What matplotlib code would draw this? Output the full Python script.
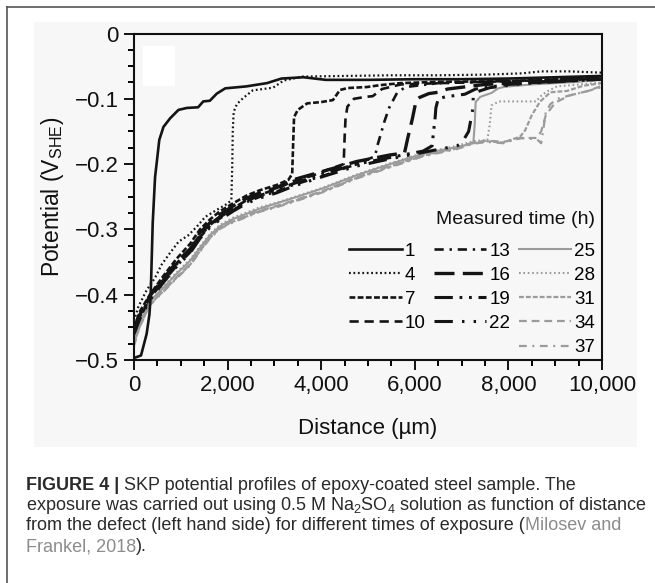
import matplotlib
matplotlib.use('Agg')
import matplotlib.pyplot as plt
from matplotlib.lines import Line2D
from matplotlib.patches import Rectangle

plt.rcParams['font.family'] = ['Liberation Sans', 'DejaVu Sans']
plt.rcParams['mathtext.fontset'] = 'custom'
plt.rcParams['mathtext.rm'] = 'Liberation Sans'
plt.rcParams['mathtext.it'] = 'Liberation Sans:italic'
plt.rcParams['mathtext.bf'] = 'Liberation Sans:bold'

# measured times (h)
times = [1, 4, 7, 10, 13, 16, 19, 22, 25, 28, 31, 34, 37]

# distance (um) / potential (V_SHE)
x1 = [0, 150, 270, 330, 357, 400, 450, 490, 540, 630, 770, 950, 1130, 1370, 1480, 1620, 1770, 1950,
      2400, 2840, 3150, 3620, 4100, 5000, 6000, 7000, 8000, 9000, 10000]
y1 = [-0.497, -0.493, -0.46, -0.43, -0.40, -0.29, -0.22, -0.195, -0.163, -0.143, -0.130, -0.117, -0.114,
      -0.113, -0.104, -0.103, -0.092, -0.084, -0.081, -0.076, -0.069, -0.067, -0.071, -0.071, -0.070,
      -0.070, -0.069, -0.067, -0.065]

x4 = [0, 90, 270, 450, 590, 770, 950, 1160, 1340, 1520, 1770, 2010, 2080, 2100, 2110, 2130, 2200, 2330,
      2540, 2760, 2970, 3200, 3600, 4500, 5500, 6500, 7500, 8300, 8700, 9300, 10000]
y4 = [-0.44, -0.419, -0.393, -0.374, -0.354, -0.336, -0.319, -0.309, -0.296, -0.281, -0.270, -0.260,
      -0.255, -0.20, -0.15, -0.12, -0.108, -0.099, -0.087, -0.085, -0.083, -0.072, -0.066, -0.065,
      -0.064, -0.064, -0.063, -0.061, -0.058, -0.058, -0.060]

x7 = [0, 130, 340, 620, 910, 1200, 1410, 1620, 1840, 2120, 2410, 2690, 3050, 3300, 3380, 3400, 3420,
      3500, 3700, 4000, 4250, 4400, 4570, 4970, 5270, 5700, 6500, 8000, 9000, 10000]
y7 = [-0.45, -0.425, -0.40, -0.372, -0.345, -0.322, -0.300, -0.285, -0.272, -0.26, -0.248, -0.24,
      -0.232, -0.224, -0.215, -0.17, -0.128, -0.117, -0.107, -0.105, -0.102, -0.0865, -0.0835, -0.082,
      -0.079, -0.076, -0.074, -0.073, -0.070, -0.066]

x10 = [0, 130, 340, 620, 910, 1200, 1410, 1620, 1840, 2120, 2410, 2690, 3050, 3400, 3800, 4200, 4480,
       4500, 4520, 4560, 4700, 4950, 5100, 5300, 5700, 7000, 8500, 10000]
y10 = [-0.455, -0.43, -0.405, -0.378, -0.352, -0.33, -0.308, -0.292, -0.28, -0.268, -0.255, -0.247,
       -0.238, -0.226, -0.218, -0.207, -0.20, -0.16, -0.13, -0.112, -0.100, -0.097, -0.096, -0.085,
       -0.078, -0.075, -0.072, -0.068]

x13 = [0, 130, 340, 620, 910, 1200, 1410, 1620, 1840, 2120, 2410, 2690, 3050, 3400, 4040, 4760, 5150,
       5200, 5350, 5450, 5620, 5800, 6500, 8000, 10000]
y13 = [-0.46, -0.435, -0.405, -0.38, -0.356, -0.335, -0.312, -0.295, -0.283, -0.27, -0.258, -0.25,
       -0.242, -0.232, -0.218, -0.200, -0.188, -0.172, -0.135, -0.114, -0.091, -0.082, -0.076, -0.073,
       -0.069]

x16 = [0, 130, 340, 620, 910, 1200, 1410, 1620, 1840, 2120, 2410, 2690, 3050, 3400, 4040, 4760, 5470,
       5780, 5850, 5950, 6030, 6100, 6300, 6500, 6700, 7500, 10000]
y16 = [-0.45, -0.43, -0.402, -0.376, -0.35, -0.33, -0.305, -0.29, -0.277, -0.264, -0.252, -0.244,
       -0.236, -0.224, -0.211, -0.196, -0.186, -0.183, -0.16, -0.13, -0.102, -0.098, -0.092, -0.090,
       -0.085, -0.078, -0.070]

x19 = [0, 130, 340, 620, 910, 1200, 1410, 1620, 1840, 2120, 2410, 2690, 3050, 3400, 4040, 4760, 5470,
       6180, 6370, 6400, 6430, 6450, 6500, 6650, 7070, 7300, 8000, 10000]
y19 = [-0.455, -0.432, -0.405, -0.378, -0.353, -0.332, -0.31, -0.293, -0.281, -0.268, -0.256, -0.248,
       -0.24, -0.23, -0.215, -0.2, -0.19, -0.18, -0.172, -0.15, -0.133, -0.114, -0.10, -0.097, -0.093,
       -0.085, -0.078, -0.070]

x22 = [0, 130, 340, 620, 910, 1200, 1410, 1620, 1840, 2120, 2410, 2690, 3050, 3400, 4040, 4760, 5470,
       6180, 6900, 7000, 7150, 7230, 7250, 7300, 7600, 8500, 10000]
y22 = [-0.46, -0.436, -0.408, -0.382, -0.357, -0.336, -0.314, -0.297, -0.285, -0.272, -0.26, -0.252,
       -0.244, -0.234, -0.219, -0.203, -0.192, -0.182, -0.172, -0.168, -0.15, -0.12, -0.097, -0.09,
       -0.083, -0.075, -0.068]

x25 = [0, 130, 340, 620, 910, 1200, 1410, 1620, 1840, 2120, 2410, 2690, 3050, 3400, 4040, 4760, 5470,
       6180, 6900, 7250, 7280, 7300, 7400, 7640, 7780, 7930, 8500, 9500, 10000]
y25 = [-0.47, -0.443, -0.41, -0.39, -0.368, -0.348, -0.328, -0.309, -0.295, -0.284, -0.276, -0.268,
       -0.26, -0.252, -0.237, -0.217, -0.2, -0.184, -0.174, -0.168, -0.14, -0.105, -0.097, -0.091,
       -0.084, -0.0815, -0.078, -0.074, -0.070]

x28 = [0, 130, 340, 620, 910, 1200, 1410, 1620, 1840, 2120, 2410, 2690, 3050, 3400, 4040, 4760, 5470,
       6180, 6900, 7240, 7550, 7600, 7640, 7800, 8600, 8670, 8820, 9040, 10000]
y28 = [-0.465, -0.44, -0.41, -0.388, -0.366, -0.346, -0.326, -0.307, -0.293, -0.282, -0.274, -0.266,
       -0.259, -0.251, -0.236, -0.216, -0.199, -0.183, -0.172, -0.165, -0.163, -0.14, -0.11, -0.104,
       -0.104, -0.097, -0.089, -0.081, -0.075]

x31 = [0, 130, 340, 620, 910, 1200, 1410, 1620, 1840, 2120, 2410, 2690, 3050, 3400, 4040, 4760, 5470,
       6180, 6900, 7240, 7540, 7890, 8250, 8360, 8500, 8680, 8900, 9250, 9600, 10000]
y31 = [-0.475, -0.447, -0.415, -0.395, -0.374, -0.354, -0.333, -0.313, -0.298, -0.288, -0.28, -0.272,
       -0.265, -0.257, -0.242, -0.221, -0.204, -0.187, -0.176, -0.168, -0.165, -0.167, -0.158, -0.148,
       -0.125, -0.104, -0.09, -0.088, -0.08, -0.076]

x34 = [0, 130, 340, 620, 910, 1200, 1410, 1620, 1840, 2120, 2410, 2690, 3050, 3400, 4040, 4760, 5470,
       6180, 6900, 7240, 7540, 7890, 8300, 8600, 8700, 8800, 9000, 9300, 9700, 10000]
y34 = [-0.472, -0.446, -0.414, -0.394, -0.373, -0.353, -0.332, -0.312, -0.297, -0.287, -0.279, -0.271,
       -0.264, -0.256, -0.241, -0.22, -0.203, -0.186, -0.175, -0.167, -0.164, -0.166, -0.16, -0.16,
       -0.15, -0.125, -0.106, -0.095, -0.088, -0.08]

x37 = [0, 130, 340, 620, 910, 1200, 1410, 1620, 1840, 2120, 2410, 2690, 3050, 3400, 4040, 4760, 5470,
       6180, 6900, 7240, 7540, 7890, 8250, 8610, 8700, 8760, 8800, 8900, 9050, 9300, 9700, 10000]
y37 = [-0.478, -0.448, -0.416, -0.396, -0.375, -0.355, -0.334, -0.314, -0.299, -0.289, -0.281, -0.273,
       -0.266, -0.258, -0.243, -0.222, -0.205, -0.188, -0.177, -0.169, -0.166, -0.168, -0.16, -0.162,
       -0.168, -0.14, -0.12, -0.108, -0.10, -0.095, -0.088, -0.082]

xs = [x1, x4, x7, x10, x13, x16, x19, x22, x25, x28, x31, x34, x37]
ys = [y1, y4, y7, y10, y13, y16, y19, y22, y25, y28, y31, y34, y37]

xtick_vals = [0, 2000, 4000, 6000, 8000, 10000]
xtick_labels = ['0', '2,000', '4,000', '6,000', '8,000', '10,000']
ytick_vals = [0, -0.1, -0.2, -0.3, -0.4, -0.5]
ytick_labels = ['0', '\u22120.1', '\u22120.2', '\u22120.3', '\u22120.4', '\u22120.5']

BLACK = '#141414'
GREY = '#9b9b9b'
styles = {
    1: (BLACK, 1.9, '-'),
    4: (BLACK, 1.6, (0, (0.8, 1.2))),
    7: (BLACK, 1.9, (0, (2.2, 0.9))),
    10: (BLACK, 1.9, (0, (3.5, 2.2))),
    13: (BLACK, 1.9, (0, (3.5, 2.2, 0.9, 2.2))),
    16: (BLACK, 2.4, (0, (6, 2.5))),
    19: (BLACK, 2.2, (0, (6, 2.2, 0.9, 2.2, 0.9, 2.2))),
    22: (BLACK, 2.2, (0, (6, 3, 0.8, 3, 0.8, 3))),
    25: (GREY, 1.5, '-'),
    28: (GREY, 1.5, (0, (0.8, 1.3))),
    31: (GREY, 1.6, (0, (2.2, 0.9))),
    34: (GREY, 1.6, (0, (3.5, 2.2))),
    37: (GREY, 1.6, (0, (3.5, 2.5, 0.9, 2.5))),
}

W, H = 655, 583
fig = plt.figure(figsize=(W / 100, H / 100), dpi=100, facecolor='white')

# panel background and page frame
BG = '#f7f7f7'
fig.add_artist(Rectangle((34 / W, 1 - 447 / H), (637 - 34) / W, (447 - 22) / H,
                         transform=fig.transFigure, facecolor=BG, edgecolor='none', zorder=0))
fig.add_artist(Line2D([7 / W, 1], [1 - 7 / H, 1 - 7 / H], transform=fig.transFigure,
                      color='#555555', lw=1.2))
fig.add_artist(Line2D([7 / W, 7 / W], [0, 1 - 7 / H], transform=fig.transFigure,
                      color='#555555', lw=1.2))

ax = fig.add_axes([134 / W, 1 - 360 / H, (602 - 134) / W, (360 - 33.5) / H])
ax.set_facecolor(BG)

lines = {}
order = list(range(8, 13)) + list(range(1, 8)) + [0]
for i in order:
    t = times[i]
    c, lw, ls = styles[t]
    ln, = ax.plot(xs[i], ys[i], color=c, lw=lw, linestyle=ls, label=str(t),
                  zorder=3 if c == BLACK else 2)
    lines[t] = ln

ax.add_patch(Rectangle((0.019, 0.839), 0.068, 0.123, transform=ax.transAxes,
                       facecolor='white', edgecolor='none', zorder=4))

ax.set_xlim(0, 10000)
ax.set_ylim(-0.5, 0)
ax.set_xticks(xtick_vals, xtick_labels)
ax.set_yticks(ytick_vals, ytick_labels)
ax.set_xticks(range(0, 10001, 500), minor=True)
ax.set_yticks([-0.025 * k for k in range(21)], minor=True)
ax.tick_params(which='major', direction='out', length=7, width=1.4, labelsize=16, pad=4,
               colors='#111111')
ax.tick_params(which='minor', direction='out', length=4, width=1.4)
for s in ax.spines.values():
    s.set_linewidth(1.5)
    s.set_color('#111111')

ax.set_xlabel('Distance (\u00b5m)', fontsize=16, color='#111111')
ax.xaxis.set_label_coords(0.5, -0.178)
ax.set_ylabel('Potential (V$_{\\mathrm{SHE}}$)', fontsize=16.5, color='#111111')
ax.yaxis.set_label_coords(-0.145, 0.5)

blank = Line2D([], [], linestyle='none')
handles = [lines[1], lines[4], lines[7], lines[10], blank,
           lines[13], lines[16], lines[19], lines[22], blank,
           lines[25], lines[28], lines[31], lines[34], lines[37]]
labels = ['1', '4', '7', '10', '', '13', '16', '19', '22', '', '25', '28', '31', '34', '37']
leg = ax.legend(handles, labels, ncol=3, loc='lower right', bbox_to_anchor=(0.985, 0.012),
                frameon=False, fontsize=13.5,
                handlelength=2.8, handletextpad=0.15, columnspacing=0.45, labelspacing=0.37,
                borderpad=0, borderaxespad=0)
ax.text(0.985, (360 - 219) / 326.5, 'Measured time (h)', transform=ax.transAxes,
        ha='right', va='center', fontsize=14, color='#111111')

# caption
CAP_FS = 13
CAP_X = 26 / W
DARK = '#2a2a2a'
LINK = '#8c8c8c'
caption = [
    (490, [('FIGURE 4 |', DARK, 'bold'), (' SKP potential profiles of epoxy-coated steel sample. The', DARK, 'normal')]),
    (510, [('exposure was carried out using 0.5 M Na$_2$SO$_4$ solution as function of distance', DARK, 'normal')]),
    (530, [('from the defect (left hand side) for different times of exposure (', DARK, 'normal'),
           ('Milosev and', LINK, 'normal')]),
    (551, [('Frankel, 2018', LINK, 'normal'), (').', DARK, 'normal')]),
]
renderer = fig.canvas.get_renderer()
for ypx, parts in caption:
    xpos = CAP_X
    for s, col, wt in parts:
        txt = fig.text(xpos, 1 - ypx / H, s, color=col, fontweight=wt, fontsize=CAP_FS,
                       ha='left', va='baseline')
        bb = txt.get_window_extent(renderer)
        xpos = bb.x1 / W

fig.savefig('out.png', dpi=100, facecolor='white')
